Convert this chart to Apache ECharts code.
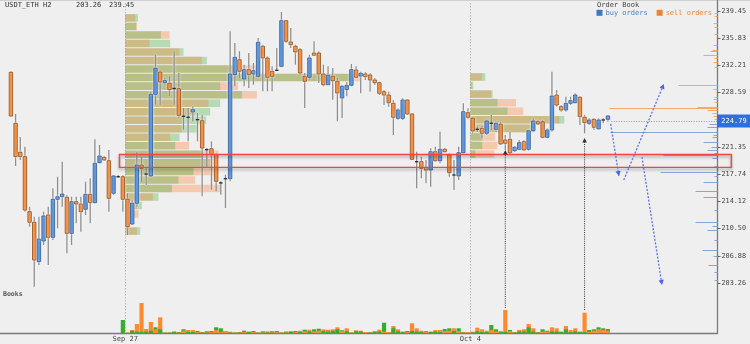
<!DOCTYPE html>
<html><head><meta charset="utf-8">
<script src="https://cdn.jsdelivr.net/npm/echarts@6/dist/echarts.min.js"></script>
<style>html,body{margin:0;padding:0;background:#efefef;}#c{width:750px;height:344px;}</style>
</head><body><div id="c"></div>
<script>
// ---------------- data ----------------
const instrument = 'USDT_ETH H2';
const priceMin = 203.26, priceMax = 239.45, priceStep = 3.619;
const tickLabels = ['203.26','206.88','210.50','214.12','217.74','221.35','224.97','228.59','232.21','235.83','239.45'];
const lastPrice = 224.79;
const slotCount = 152;                 // candle slots incl. empty right margin
const dayStart = [25, 99];             // index of first candle of the day
const dayLabel = ['Sep 27', 'Oct 4'];

const candleOpen = [231.29,224.51,220.65,220.07,212.75,211.34,206.10,208.85,212.31,209.34,
 214.40,214.74,214.66,209.87,214.08,213.77,213.07,215.06,213.95,219.27,
 219.98,219.53,215.20,217.40,217.40,214.40,211.11,213.87,218.96,217.76,
 217.50,228.37,231.33,229.91,229.83,229.14,229.11,225.44,225.31,226.01,
 224.99,224.85,221.00,221.13,220.33,216.57,217.14,217.14,230.98,232.97,
 230.40,231.64,231.07,230.76,234.75,233.20,231.43,231.56,232.09,238.16,
 235.33,234.75,234.30,230.76,230.63,233.86,233.86,231.07,229.64,230.76,
 230.10,227.88,228.98,229.57,231.60,230.80,231.07,230.94,230.27,229.91,
 228.71,228.27,227.17,225.17,225.17,227.61,225.75,219.40,219.40,218.65,
 218.29,220.73,219.53,221.05,220.29,217.63,217.50,220.60,225.92,225.17,
 223.71,223.84,223.18,224.51,223.71,224.38,222.29,222.38,220.86,221.05,
 222.06,221.05,223.52,224.72,224.72,222.65,223.62,228.27,226.72,226.28,
 227.17,227.25,227.97,225.31,224.51,225.04,223.77,224.95,225.04];
const candleClose = [225.48,220.07,220.07,212.97,211.34,206.32,209.12,212.18,209.34,214.40,
 214.74,215.10,209.87,214.08,213.77,212.75,215.06,213.95,219.19,220.16,
 219.63,214.53,217.50,217.40,214.40,210.75,213.87,218.96,218.52,217.76,
 228.37,231.83,230.00,230.18,228.98,229.14,225.57,225.44,225.31,226.32,
 224.99,221.22,221.00,220.33,216.79,216.57,217.14,231.07,233.29,231.43,
 231.64,230.98,231.51,235.29,233.20,230.63,230.76,231.56,238.16,235.42,
 234.97,234.00,231.20,230.10,233.20,233.56,231.07,229.64,230.90,230.18,
 228.54,229.43,229.57,231.64,230.63,231.16,230.71,230.27,229.91,228.50,
 228.27,227.25,225.31,226.28,227.61,225.75,219.72,219.40,218.52,218.29,
 220.73,219.53,221.05,220.73,217.94,217.63,220.60,226.05,225.31,223.52,
 223.71,223.18,224.82,224.51,224.51,221.76,221.85,220.60,221.32,221.93,
 220.96,223.52,224.82,224.42,222.65,223.62,228.14,226.94,226.28,227.17,
 227.52,228.27,225.39,224.59,224.95,223.98,224.95,224.95,225.48];
const candleLow = [225.35,218.83,219.63,212.75,210.75,202.77,205.66,208.32,205.66,208.98,
 210.54,213.41,207.21,208.32,211.20,210.09,212.31,211.20,213.87,219.19,
 219.49,212.75,214.97,217.23,212.75,209.65,210.98,213.41,216.74,216.30,
 217.32,226.98,226.98,229.61,228.10,226.98,225.21,223.66,222.11,224.78,
 222.11,214.80,218.56,215.67,215.46,215.01,213.24,216.79,229.43,230.54,
 229.43,229.21,229.64,230.54,228.77,228.77,228.77,231.47,231.96,235.19,
 234.53,232.31,230.98,226.54,230.31,233.56,229.87,229.43,229.64,227.65,
 224.78,225.21,228.10,229.43,230.54,228.50,230.27,228.71,229.61,228.27,
 226.94,226.72,222.95,224.95,224.95,225.61,219.63,215.86,217.19,216.53,
 216.07,219.40,219.19,220.65,217.40,215.63,216.96,220.52,225.04,223.18,
 223.39,222.51,222.95,223.62,223.39,221.62,220.96,220.29,220.69,220.96,
 220.86,220.86,223.39,224.28,222.51,222.51,223.39,226.72,226.05,226.05,
 226.94,227.17,224.28,223.18,224.28,223.62,223.71,224.51,224.73];
const candleHigh = [231.47,225.75,222.69,221.40,213.41,212.08,212.08,212.75,213.41,215.86,
 217.40,219.40,214.97,214.74,214.74,214.74,216.74,217.19,222.38,221.62,
 220.16,220.96,217.63,217.63,217.63,215.20,214.30,220.73,220.07,218.73,
 228.71,233.60,231.64,230.54,230.76,234.09,231.20,226.54,226.54,226.77,
 225.88,225.65,221.22,222.11,220.56,216.79,217.67,236.75,235.19,234.09,
 232.31,233.86,232.53,235.86,234.97,233.42,232.09,234.53,239.32,238.16,
 237.19,234.97,234.53,231.20,233.64,235.42,234.09,232.31,232.09,231.87,
 230.54,229.64,230.00,232.40,232.09,231.37,231.33,231.16,230.54,230.04,
 228.94,228.71,227.61,226.50,227.84,227.70,225.84,220.73,220.07,219.63,
 221.18,221.40,223.39,221.22,220.52,219.63,221.40,227.17,226.50,225.39,
 224.06,224.15,225.04,225.61,224.72,224.72,222.95,223.39,221.49,222.29,
 222.29,223.62,225.17,224.95,224.95,223.84,231.37,228.94,226.94,228.05,
 228.05,228.50,228.14,225.61,225.17,225.17,225.17,225.17,225.61];

const N = null;
const volBuy = [N,N,N,N,N,N,N,N,N,N,N,N,N,N,N,N,N,N,N,N,N,N,N,N,
 13,0.3,2.3,1.3,1.3,1.3,2.3,5.7,3.7,0.3,
 0.5,1,0.5,3.7,1,1,2,1,1.7,2,
 5.7,4.7,2,0.5,0.5,0.5,2.3,1,2,0.5,
 0.5,0.5,1.7,2,0.5,0.5,1,2,1,3.3,
 1.7,3.7,4.3,2,1.5,2.3,3.7,2.7,1.7,0.5,
 1.7,1.5,1,0.5,1,1.5,10.3,1,4.7,1.7,
 1,2,2,1.5,1,2,1,1.5,1,4,
 4.7,2,4.7,0.5,1,0.5,1.7,1,1,8,
 3.7,1,1,3,1,1.5,1.5,5.7,1.5,0.5,
 3.7,2.3,1.5,1.5,1,3.7,1,1.5,1,1,
 3,3.7,5.7,4.7,4];
const volSell = [N,N,N,N,N,N,N,N,N,N,N,N,N,N,N,N,N,N,N,N,N,N,N,N,
 0,0.3,3,9,30,4,11,3.7,15.7,0.5,
 0.3,1.7,1,2.3,3,3,1,0.5,0.5,1,
 3,1,2,1.3,0.5,1,1,1.5,1,0.5,
 2,1.7,0.5,1,0.3,1.7,2,1,2.3,1.7,
 3.3,1.7,2.3,3.7,3.3,3.7,5.7,2,4.7,0.5,
 2.7,2.3,1,1,2,3.3,1.5,1,7,3.7,
 1.5,1,9.7,4.7,2.3,1.5,1.5,3,3,2,
 2.3,4.7,2,1,1,1.3,5.3,3.7,2.3,3,
 1.5,2,23,2,0.5,3,3.7,9,4.7,1,
 1.5,1.5,5.7,4.7,1.5,7,3,4.7,1.5,20.3,
 1,2.3,3.7,3,2.3];

// volume profiles (volume in candle-slot units, rows from top to bottom)
const profile1Start = 25, profile1Top = 239.10, profile1Bottom = 209.60;
const profile1Buy  = [2.72,2.36,7.65,9.65,12.50,17.51,24.65,48.87,20.36,25.02,20.36,18.22,17.36,15.37,11.64,10.72,16.44,18.22,14.64,11.43,10.01,7.14,3.58,2.14,0.86,3.22];
const profile1Sell = [2.14,2.51,9.50,5.21,11.64,16.44,28.30,50.38,24.22,28.23,17.86,15.01,12.22,12.15,9.65,13.72,20.00,19.29,20.00,15.01,20.36,5.94,2.51,2.85,1.07,2.51];
const profile2Start = 99, profile2Top = 231.24, profile2Bottom = 219.85;
const profile2Buy  = [3.22,0.64,4.78,5.85,8.00,20.15,13.72,2.57,2.57,1.07];
const profile2Sell = [2.51,0.32,4.44,9.80,11.36,19.08,12.86,5.36,5.79,5.14];

// order book
const sellPrice = [239.18,238.78,237.85,237.32,236.39,234.93,234.26,234.13,233.60,233.20,232.66,232.00,229.61,229.07,228.01,227.74,227.34,226.72,226.58,226.28,225.88,225.48,225.08];
const sellSize  = [3,3,4,3,3,4,5,7,14,3,4,3,39,4,3,4,3,20,108,10,5,4,3];
const buyPrice  = [224.42,224.02,223.39,222.95,222.69,222.02,221.36,220.96,220.56,220.29,219.89,218.83,218.07,217.50,216.74,215.54,214.74,212.97,211.42,210.84,210.31,208.98,207.65,206.85,205.66,204.73,203.66];
const buySize   = [8,10,107,4,5,14,6,10,3,54,5,3,57,3,14,22,14,3,22,5,10,3,15,4,9,3,3];

// annotations (slot, price)
const zoneBox = [[23.77, 154.97, 220.36, 218.65]];
const blueArrows = [[129.1, 224.42, 130.85, 217.50],[131.9, 216.96, 140.5, 229.74],[135.8, 220.02, 140.1, 203.0]];
const volumeArrows = [[106, 199.94, 220.96],[123, 199.67, 222.55]];

// ---------------- chart ----------------
const FONT = 'DejaVu Sans Mono';
const slots = Array.from({length: slotCount}, (_, i) => String(i));
const GL = 8.6, GW = 708.9;

function profileRows(start, top, bottom, buy, sell) {
  const step = (top - bottom) / buy.length;
  return buy.map((b, k) => [start, top - k * step, top - (k + 1) * step, b, sell[k]]);
}
function head(x1, y1, x2, y2, len, half) {
  const dx = x2 - x1, dy = y2 - y1, L = Math.hypot(dx, dy), ux = dx / L, uy = dy / L;
  const bx = x2 - ux * len, by = y2 - uy * len;
  return [[x2, y2], [bx - uy * half, by + ux * half], [bx + uy * half, by - ux * half]];
}

function renderCandle(params, api) {
  const i = api.value(0), o = api.value(1), c = api.value(2), lo = api.value(3), hi = api.value(4);
  const pO = api.coord([i, o]), pC = api.coord([i, c]), pL = api.coord([i, lo]), pH = api.coord([i, hi]);
  const band = api.size([1, 0])[0];
  const w = band * 0.74;
  const x = pO[0];
  const ch = [{type: 'line', shape: {x1: x, y1: pH[1], x2: x, y2: pL[1]},
    style: {stroke: '#8d8d8d', lineWidth: 1.3, shadowBlur: 2, shadowColor: 'rgba(255,255,255,1)'}}];
  if (o === c) {
    ch.push({type: 'line', shape: {x1: x - w / 2, y1: pO[1], x2: x + w / 2, y2: pO[1]}, style: {stroke: '#2a2a2a', lineWidth: 1.3}});
  } else {
    const up = c > o;
    const top = Math.min(pO[1], pC[1]), h = Math.max(Math.abs(pO[1] - pC[1]), 1);
    ch.push({type: 'rect', shape: {x: x - w / 2, y: top, width: w, height: h},
      style: {fill: up ? '#3f81d9' : '#f57b1f', stroke: up ? '#24518c' : '#8a4510', lineWidth: 0.8,
        shadowBlur: 2, shadowColor: 'rgba(255,255,255,1)'}});
  }
  return {type: 'group', children: ch};
}

function renderProfile(params, api) {
  const s = api.value(0), pHi = api.value(1), pLo = api.value(2), b = api.value(3), se = api.value(4);
  const a = api.coord([s, pHi]);
  const yT = a[1] + 0.5, yB = api.coord([s, pLo])[1] - 0.5;
  const xb = api.coord([s + b, pHi])[0], xs = api.coord([s + se, pHi])[0];
  const g = {type: 'rect', shape: {x: a[0], y: yT, width: xb - a[0], height: yB - yT}, style: {fill: 'rgba(60,175,55,0.32)'}};
  const r = {type: 'rect', shape: {x: a[0], y: yT, width: xs - a[0], height: yB - yT}, style: {fill: 'rgba(255,122,40,0.32)'}};
  return {type: 'group', children: b >= se ? [g, r] : [r, g]};
}

function renderVolume(params, api) {
  const i = api.value(0), b = api.value(1), s = api.value(2);
  const base = api.coord([i, 0]);
  const band = api.size([1, 0])[0], w = band - 0.5;
  const mk = (v, col) => {
    const p = api.coord([i, v]);
    return {type: 'rect', shape: {x: base[0] - w / 2, y: p[1], width: w, height: base[1] - p[1]}, style: {fill: col}};
  };
  const g = mk(b, '#36aa32'), r = mk(s, '#ff8a2e');
  return {type: 'group', children: b >= s ? [g, r] : [r, g]};
}

function bookRenderer(color) {
  return function (params, api) {
    const p = api.value(0), s = api.value(1);
    const a = api.coord([0, p]), b = api.coord([s, p]);
    const y = Math.round(a[1]) + 0.5;
    return {type: 'line', shape: {x1: a[0], y1: y, x2: b[0], y2: y}, style: {stroke: color, lineWidth: 1}};
  };
}

function renderLast(params, api) {
  const i = api.value(0), p = api.value(1);
  const pt = api.coord([i, p]);
  const band = api.size([1, 0])[0];
  const xe = params.coordSys.x + params.coordSys.width;
  const y = Math.round(pt[1]) + 0.5;
  return {type: 'group', children: [
    {type: 'line', shape: {x1: pt[0] + band / 2 + 1, y1: y, x2: xe, y2: y}, style: {stroke: '#9a9a9a', lineWidth: 1, lineDash: [1, 1.5]}},
    {type: 'rect', shape: {x: xe - 0.5, y: y - 7, width: 34, height: 13}, style: {fill: '#2c6fe0'}},
    {type: 'text', style: {x: xe + 16.5, y: y - 0.5, text: p.toFixed(2), fill: '#fff', font: '7px "' + FONT + '"', align: 'center', verticalAlign: 'middle'}}
  ]};
}

function renderBox(params, api) {
  const a = api.coord([api.value(0), api.value(2)]), b = api.coord([api.value(1), api.value(3)]);
  return {type: 'rect', shape: {x: a[0], y: a[1], width: b[0] - a[0], height: b[1] - a[1]},
    style: {fill: 'rgba(0,0,0,0)', stroke: '#f24646', lineWidth: 1.4, shadowBlur: 3, shadowOffsetY: 2, shadowColor: 'rgba(0,0,0,0.35)'}};
}

function renderBlueArrow(params, api) {
  const a = api.coord([api.value(0), api.value(1)]), b = api.coord([api.value(2), api.value(3)]);
  return {type: 'group', children: [
    {type: 'line', shape: {x1: a[0], y1: a[1], x2: b[0], y2: b[1]}, style: {stroke: '#5d70f0', lineWidth: 1.3, lineDash: [2, 1.6]}},
    {type: 'polygon', shape: {points: head(a[0], a[1], b[0], b[1], 5, 2.6)}, style: {fill: '#4f63ee'}}
  ]};
}

function renderVolArrow(params, api) {
  const i = api.value(0);
  const a = api.coord([i, api.value(1)]), b = api.coord([i, api.value(2)]);
  return {type: 'group', children: [
    {type: 'line', shape: {x1: a[0], y1: a[1], x2: b[0], y2: b[1] + 3}, style: {stroke: '#333', lineWidth: 1, lineDash: [1, 1.2]}},
    {type: 'polygon', shape: {points: head(a[0], a[1], b[0], b[1], 4.5, 2.3)}, style: {fill: '#333'}}
  ]};
}

const candleData = candleOpen.map((o, i) => [i, o, candleClose[i], candleLow[i], candleHigh[i]]);
const volData = volBuy.map((b, i) => [i, b, volSell[i]]).filter(d => d[1] !== null);

const txt = {fontFamily: FONT, fontSize: 7, fontWeight: 'normal', color: '#333'};
const option = {
  backgroundColor: '#efefef',
  animation: false,
  title: [
    {text: instrument, left: 5, top: 2, padding: 0, textStyle: txt},
    {text: priceMin.toFixed(2), left: 76, top: 2, padding: 0, textStyle: txt},
    {text: priceMax.toFixed(2), left: 109, top: 2, padding: 0, textStyle: txt},
    {text: 'Order Book', left: 597, top: 1.5, padding: 0, textStyle: Object.assign({}, txt, {color: '#444'})},
    {text: 'Books', left: 3, top: 290.5, padding: 0, textStyle: Object.assign({}, txt, {fontSize: 6.5, fontWeight: 'bold', color: '#555'})}
  ],
  legend: {
    left: 596.5, top: 9.3, padding: 0, itemWidth: 6, itemHeight: 6, itemGap: 9, icon: 'rect', selectedMode: false,
    textStyle: {fontFamily: FONT, fontSize: 7, padding: [0, 0, 0, -2]},
    data: [{name: 'buy orders', textStyle: {color: '#4a7fc6'}}, {name: 'sell orders', textStyle: {color: '#f0883a'}}]
  },
  graphic: [{type: 'line', shape: {x1: 0, y1: 0.5, x2: 750, y2: 0.5}, style: {stroke: '#cfcfcf', lineWidth: 1}, silent: true}],
  grid: [
    {left: GL, top: 11, width: GW, height: 272},
    {left: GL, top: 290, width: GW, height: 43},
    {left: GL, top: 3, width: GW, height: 330},
    {left: 0, top: 0, width: GL + GW, height: 333}
  ],
  xAxis: [
    {type: 'category', gridIndex: 0, data: slots, show: false},
    {type: 'value', gridIndex: 0, min: 0, max: GW, inverse: true, position: 'top', show: false},
    {type: 'value', gridIndex: 0, min: 0, max: slotCount, show: false},
    {type: 'category', gridIndex: 1, data: slots, show: false},
    {type: 'category', gridIndex: 2, data: slots, position: 'bottom',
      axisLine: {show: false}, axisTick: {show: false},
      axisLabel: {show: true, interval: 0, margin: 3, hideOverlap: false,
        formatter: (v) => { const k = dayStart.indexOf(Number(v)); return k >= 0 ? '{d|' + dayLabel[k] + '}' : ''; },
        rich: {d: {fontFamily: FONT, fontSize: 7, color: '#444', padding: [0, 4.66, 0, 0]}}},
      splitLine: {show: true, interval: (idx) => dayStart.indexOf(idx) >= 0, lineStyle: {color: '#b8b8b8', type: [1.5, 1.5], width: 1}}},
    {type: 'value', gridIndex: 3, min: 0, max: 1, axisLine: {show: true, onZero: false, lineStyle: {color: '#7a7a7a', width: 1.4}},
      axisTick: {show: false}, axisLabel: {show: false}, splitLine: {show: false}}
  ],
  yAxis: [
    {type: 'value', gridIndex: 0, position: 'right', min: priceMin, max: priceMax, interval: priceStep,
      axisLine: {show: false}, axisTick: {show: true, length: 3, lineStyle: {color: '#666'}},
      axisLabel: {margin: 4, fontFamily: FONT, fontSize: 6.8, color: '#444',
        formatter: (v) => { let best = tickLabels[0], d = 1e9; tickLabels.forEach(t => { const e = Math.abs(parseFloat(t) - v); if (e < d) { d = e; best = t; } }); return best; }},
      splitLine: {show: false}},
    {type: 'value', gridIndex: 1, min: 0, max: 43, show: false},
    {type: 'value', gridIndex: 2, min: 0, max: 1, show: false},
    {type: 'value', gridIndex: 3, min: 0, max: 1, position: 'right', axisLine: {show: true, onZero: false, lineStyle: {color: '#7a7a7a', width: 1.3}},
      axisTick: {show: false}, axisLabel: {show: false}, splitLine: {show: false}}
  ],
  series: [
    {type: 'custom', name: 'profile1', xAxisIndex: 2, yAxisIndex: 0, z: 1, renderItem: renderProfile,
      encode: {x: 0, y: 1}, data: profileRows(profile1Start, profile1Top, profile1Bottom, profile1Buy, profile1Sell)},
    {type: 'custom', name: 'profile2', xAxisIndex: 2, yAxisIndex: 0, z: 1, renderItem: renderProfile,
      encode: {x: 0, y: 1}, data: profileRows(profile2Start, profile2Top, profile2Bottom, profile2Buy, profile2Sell)},
    {type: 'custom', name: 'sell orders', xAxisIndex: 1, yAxisIndex: 0, z: 2, renderItem: bookRenderer('#f6a867'),
      itemStyle: {color: '#f5822a'}, encode: {x: 1, y: 0}, data: sellPrice.map((p, i) => [p, sellSize[i]])},
    {type: 'custom', name: 'buy orders', xAxisIndex: 1, yAxisIndex: 0, z: 2, renderItem: bookRenderer('#86a6d6'),
      itemStyle: {color: '#3f78c4'}, encode: {x: 1, y: 0}, data: buyPrice.map((p, i) => [p, buySize[i]])},
    {type: 'custom', name: 'candles', xAxisIndex: 0, yAxisIndex: 0, z: 3, renderItem: renderCandle,
      encode: {x: 0, y: [1, 2, 3, 4]}, data: candleData},
    {type: 'custom', name: 'volume', xAxisIndex: 3, yAxisIndex: 1, z: 3, renderItem: renderVolume,
      encode: {x: 0, y: [1, 2]}, data: volData},
    {type: 'custom', name: 'zone', xAxisIndex: 2, yAxisIndex: 0, z: 8, renderItem: renderBox, encode: {x: 0, y: 2}, data: zoneBox},
    {type: 'custom', name: 'arrows', xAxisIndex: 2, yAxisIndex: 0, z: 9, renderItem: renderBlueArrow, encode: {x: 0, y: 1}, data: blueArrows},
    {type: 'custom', name: 'volArrows', xAxisIndex: 0, yAxisIndex: 0, z: 9, renderItem: renderVolArrow, encode: {x: 0, y: 1}, data: volumeArrows},
    {type: 'custom', name: 'last', xAxisIndex: 0, yAxisIndex: 0, z: 20, renderItem: renderLast, encode: {x: 0, y: 1},
      data: [[candleOpen.length - 1, lastPrice]]}
  ]
};
const chart = echarts.init(document.getElementById('c'));
chart.setOption(option);
</script>
</body></html>
